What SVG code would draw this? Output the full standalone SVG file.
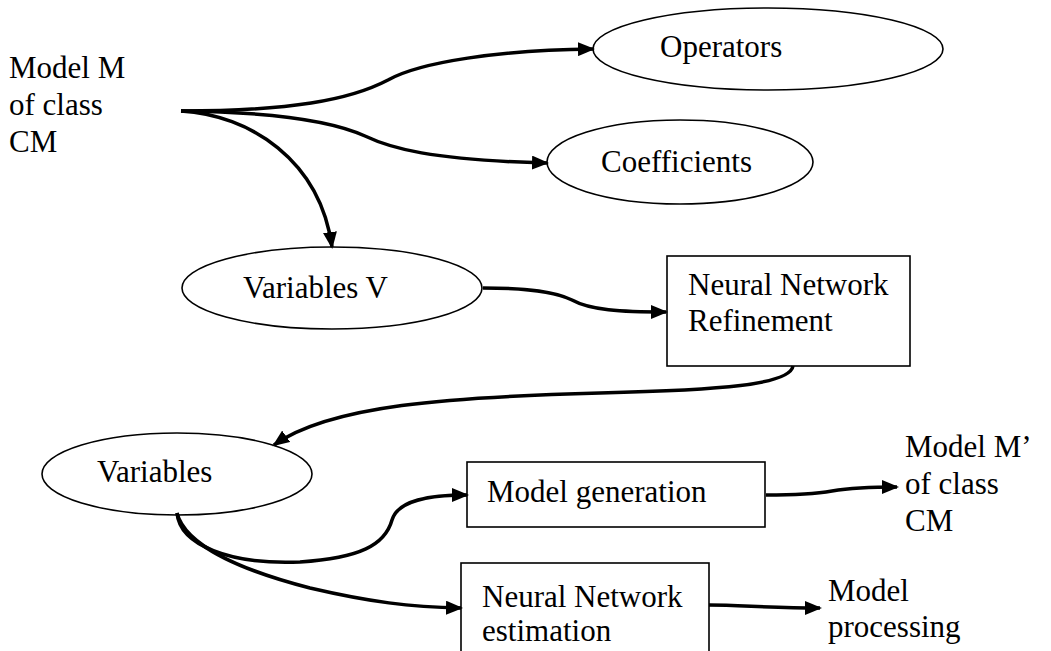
<svg xmlns="http://www.w3.org/2000/svg" width="1051" height="651" viewBox="0 0 1051 651" font-family="'Liberation Serif', 'Times New Roman', serif">
<style>
text{font-family:"Liberation Serif","Times New Roman",serif;font-size:31px;fill:#000}
.shape{fill:#fff;stroke:#000;stroke-width:1.6}
.conn path{fill:none;stroke:#000;stroke-width:3.5;marker-end:url(#ah)}
</style>
<defs>
<marker id="ah" markerUnits="userSpaceOnUse" markerWidth="18" markerHeight="14" refX="15" refY="7" orient="auto">
<path d="M0,0 L17,7 L0,14 z" fill="#000"/>
</marker>
</defs>
<rect width="1051" height="651" fill="#fff"/>
<g id="model-m">
<text x="9" y="78">Model M</text>
<text x="9" y="115">of class</text>
<text x="9" y="152">CM</text>
</g>
<g id="operators">
<ellipse class="shape" cx="768" cy="49" rx="175" ry="41"/>
<text x="660" y="57">Operators</text>
</g>
<g id="coefficients">
<ellipse class="shape" cx="680" cy="162" rx="133" ry="42"/>
<text x="601" y="172">Coefficients</text>
</g>
<g id="variables-v">
<ellipse class="shape" cx="332" cy="288" rx="150" ry="41"/>
<text x="243" y="298">Variables V</text>
</g>
<g id="nn-refinement">
<rect class="shape" x="667" y="256" width="243" height="110"/>
<text x="688" y="295">Neural Network</text>
<text x="688" y="331">Refinement</text>
</g>
<g id="variables">
<ellipse class="shape" cx="177" cy="474" rx="135" ry="41"/>
<text x="97" y="482">Variables</text>
</g>
<g id="model-generation">
<rect class="shape" x="467" y="462" width="298" height="65"/>
<text x="487" y="502">Model generation</text>
</g>
<g id="nn-estimation">
<rect class="shape" x="461" y="563" width="248" height="100"/>
<text x="482" y="607">Neural Network</text>
<text x="482" y="641">estimation</text>
</g>
<g id="model-m-prime">
<text x="905" y="457">Model M’</text>
<text x="905" y="494">of class</text>
<text x="905" y="531">CM</text>
</g>
<g id="model-processing">
<text x="828" y="601">Model</text>
<text x="828" y="637">processing</text>
</g>
<g id="connectors" class="conn">
<path d="M181,111 C290,111 350,100 388,80 C420,62 500,50 593,49"/>
<path d="M181,111 C270,112 330,120 365,136 C390,148 430,160 547,163"/>
<path d="M181,111 C250,115 320,160 332,247"/>
<path d="M483,288 C530,288 555,292 572,300 C590,310 620,312 666,312"/>
<path d="M793,366 C790,385 720,390 600,393 C450,397 330,405 274,445"/>
<path d="M177,513 C180,545 230,565 300,562 C360,558 385,545 392,520 C398,500 430,495 467,495"/>
<path d="M177,513 C185,545 240,570 310,588 C370,602 410,607 461,608"/>
<path d="M766,495 C790,495 815,494 832,491 C850,488 870,487 897,487"/>
<path d="M709,605 C740,605 770,608 820,608"/>
</g>
</svg>
